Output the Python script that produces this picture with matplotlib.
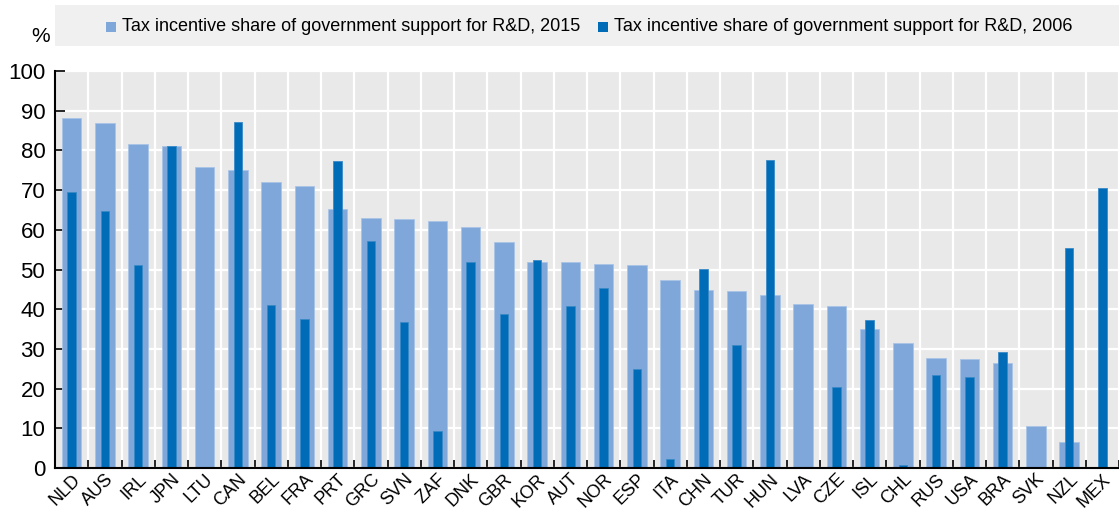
import matplotlib
matplotlib.use("Agg")
import matplotlib.pyplot as plt
import numpy as np
from matplotlib.patches import Rectangle

countries = ["NLD", "AUS", "IRL", "JPN", "LTU", "CAN", "BEL", "FRA", "PRT", "GRC",
             "SVN", "ZAF", "DNK", "GBR", "KOR", "AUT", "NOR", "ESP", "ITA", "CHN",
             "TUR", "HUN", "LVA", "CZE", "ISL", "CHL", "RUS", "USA", "BRA", "SVK",
             "NZL", "MEX"]
share_2015 = [88.1, 87.0, 81.5, 81.0, 75.7, 75.0, 72.1, 71.0, 65.2, 63.0,
              62.6, 62.2, 60.6, 56.9, 51.8, 51.8, 51.3, 51.1, 47.4, 44.8,
              44.7, 43.7, 41.2, 40.7, 34.9, 31.6, 27.6, 27.4, 26.4, 10.7,
              6.5, 0.0]
share_2006 = [69.4, 64.8, 51.2, 81.2, np.nan, 87.2, 41.0, 37.6, 77.3, 57.1,
              36.8, 9.2, 51.9, 38.8, 52.3, 40.9, 45.3, 24.9, 2.2, 50.1,
              31.0, 77.7, np.nan, 20.5, 37.2, 0.8, 23.3, 22.9, 29.1, np.nan,
              55.4, 70.5]
label_2015 = "Tax incentive share of government support for R&D, 2015"
label_2006 = "Tax incentive share of government support for R&D, 2006"
y_ticks = [0, 10, 20, 30, 40, 50, 60, 70, 80, 90, 100]

light = "#7FA7D9"
dark = "#006BB6"

plt.rcParams['font.family'] = ['Liberation Sans', 'DejaVu Sans']

W, H = 1119, 513
fig = plt.figure(figsize=(W / 100, H / 100), dpi=100)
ax = fig.add_axes([55 / W, 1 - 468 / H, (W - 55) / W, (468 - 71) / H])

x = np.arange(len(countries))
ax.set_facecolor("#E9E9E9")
ax.bar(x, share_2015, width=0.58, color=light, edgecolor="#A9C4E6", linewidth=0.6, zorder=3)
ax.bar(x, share_2006, width=0.25, color=dark, edgecolor="#3A8AC8", linewidth=0.6, zorder=4)

ax.set_xlim(-0.5, len(countries) - 0.5)
ax.set_ylim(0, 100)
ax.set_yticks(y_ticks)
ax.set_yticklabels([str(v) for v in y_ticks], fontsize=16)
ax.set_xticks(x)
ax.set_xticklabels(countries, rotation=45, ha="right", rotation_mode="anchor", fontsize=13)
ax.set_xticks(np.arange(len(countries) + 1) - 0.5, minor=True)
ax.tick_params(axis="x", which="major", length=0, pad=2)
ax.tick_params(axis="x", which="minor", direction="in", length=6, width=1.2, color="black")
ax.tick_params(axis="y", direction="in", length=7, width=1.2, pad=7)

ax.grid(True, axis="y", color="white", linewidth=1.6, zorder=1)
ax.grid(True, axis="x", which="minor", color="white", linewidth=1.6, zorder=1)
ax.grid(False, axis="x", which="major")
ax.set_axisbelow(True)

for s in ["top", "right"]:
    ax.spines[s].set_visible(False)
for s in ["left", "bottom"]:
    ax.spines[s].set_linewidth(1.5)
    ax.spines[s].set_color("black")
    ax.spines[s].set_zorder(6)

# legend band
fig.patches.append(Rectangle((55 / W, 1 - 46 / H), (W - 55) / W, 41 / H,
                             transform=fig.transFigure, facecolor="#F0F0F0",
                             edgecolor="none", zorder=0))
ly = 1 - 27 / H
fig.patches.append(Rectangle((106 / W, ly - 5 / H), 10 / W, 10 / H,
                             transform=fig.transFigure, facecolor=light, edgecolor="none"))
fig.text(122 / W, ly, label_2015, fontsize=13, va="center", ha="left")
fig.patches.append(Rectangle((598 / W, ly - 5 / H), 10 / W, 10 / H,
                             transform=fig.transFigure, facecolor=dark, edgecolor="none"))
fig.text(614 / W, ly, label_2006, fontsize=13, va="center", ha="left")

fig.text(41 / W, 1 - 37 / H, "%", fontsize=15, va="center", ha="center")

fig.savefig("out.png", dpi=100)
